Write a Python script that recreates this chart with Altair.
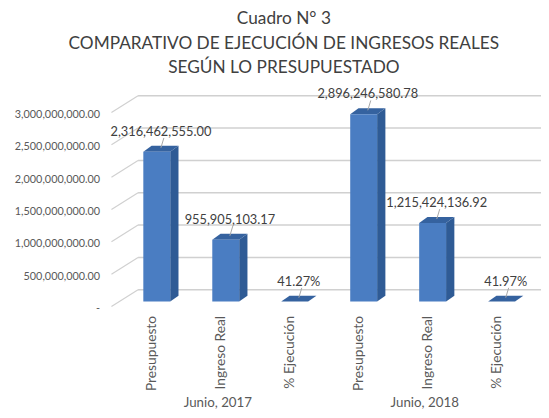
import json
import altair as alt
import pandas as pd

# ---------------- data ----------------
groups = ["Junio, 2017", "Junio, 2018"]
categories = ["Presupuesto", "Ingreso Real", "% Ejecución"]
values_2017 = [2316462555.00, 955905103.17, 0.4127]
values_2018 = [2896246580.78, 1215424136.92, 0.4197]
is_percent = [False, False, True]
y_ticks = [0, 500000000, 1000000000, 1500000000, 2000000000, 2500000000, 3000000000]
title_lines = ["Cuadro N° 3",
               "COMPARATIVO DE EJECUCIÓN DE INGRESOS REALES",
               "SEGÚN LO PRESUPUESTADO"]

# ---------------- style / geometry ----------------
PLOT_W, PLOT_H = 420, 197
Y_MAX = 3000000000
HALF_W = 0.195                    # half bar width (category units)
DEPTH_X = 0.12                    # 3D depth, horizontal (category units)
DEPTH_Y = 6 * Y_MAX / PLOT_H      # 3D depth, vertical (6px in value units)
FRONT = "#4a7dc2"
SIDE = "#2f5b95"
TOP = "#35629f"
FONT = "Lato"

rows = []
for g, vals in zip(groups, [values_2017, values_2018]):
    for c, v, pct in zip(categories, vals, is_percent):
        rows.append(dict(idx=len(rows), group=g, category=c, value=v,
                         label=(f"{v * 100:.2f}%" if pct else f"{v:,.2f}")))
bars = pd.DataFrame(rows)
bars["xl"] = bars["idx"] - HALF_W
bars["xr"] = bars["idx"] + HALF_W
bars["zero"] = 0.0
bars["xlab"] = bars["idx"] + DEPTH_X / 2
bars["vlab"] = bars["value"] + DEPTH_Y / 2

side_rows, top_rows = [], []
for r in rows:
    i, v = r["idx"], r["value"]
    xl, xr = i - HALF_W, i + HALF_W
    side_rows += [dict(bar=i, x=xr, y=v, y2=0.0),
                  dict(bar=i, x=xr + DEPTH_X, y=v + DEPTH_Y, y2=DEPTH_Y)]
    top_rows += [dict(bar=i, x=xl, y=v, y2=v),
                 dict(bar=i, x=xl + DEPTH_X, y=v + DEPTH_Y, y2=v),
                 dict(bar=i, x=xr, y=v + DEPTH_Y, y2=v),
                 dict(bar=i, x=xr + DEPTH_X, y=v + DEPTH_Y, y2=v + DEPTH_Y)]
side = pd.DataFrame(side_rows)
top = pd.DataFrame(top_rows)
ticks = pd.DataFrame({"tick": y_ticks})
grp = bars.groupby("group", as_index=False)["idx"].mean().rename(columns={"idx": "gidx"})

xs = alt.Scale(domain=[-0.5, 5.5], nice=False, zero=False)
ys = alt.Scale(domain=[0, Y_MAX], nice=False)

x_axis = alt.Axis(values=list(range(len(rows))), title=None, grid=False, domain=False,
                  ticks=False, labelAngle=-90, labelPadding=14, labelOffset=-5,
                  labelFont=FONT, labelFontSize=14, labelColor="#595959",
                  labelExpr=f"{json.dumps(categories, ensure_ascii=False)}[datum.value % 3]")
y_axis = alt.Axis(values=y_ticks, title=None, grid=False, domain=False, ticks=False,
                  labelPadding=23, labelOffset=7, labelFont=FONT, labelFontSize=11,
                  labelColor="#595959",
                  labelExpr="datum.value == 0 ? '-\u00a0\u00a0' : format(datum.value, ',.2f')")

grid = alt.Chart(ticks).mark_rule(color="#d0d0d0", strokeWidth=1.5, yOffset=-12).encode(
    x=alt.value(16), x2=alt.value(425),
    y=alt.Y("tick:Q", scale=ys, axis=y_axis))
wall = alt.Chart(ticks).mark_rule(color="#d0d0d0", strokeWidth=1.2, yOffset=5, y2Offset=-12).encode(
    x=alt.value(-11), x2=alt.value(16),
    y=alt.Y("tick:Q", scale=ys, axis=y_axis), y2=alt.Y2("tick:Q"))

side_l = alt.Chart(side).mark_area(color=SIDE).encode(
    x=alt.X("x:Q", scale=xs, axis=x_axis),
    y=alt.Y("y:Q", scale=ys, axis=y_axis, stack=False), y2=alt.Y2("y2:Q"),
    detail="bar:N")
top_l = alt.Chart(top).mark_area(color=TOP).encode(
    x=alt.X("x:Q", scale=xs, axis=x_axis),
    y=alt.Y("y:Q", scale=ys, axis=y_axis, stack=False), y2=alt.Y2("y2:Q"),
    detail="bar:N")
front = alt.Chart(bars).mark_rect(color=FRONT).encode(
    x=alt.X("xl:Q", scale=xs, axis=x_axis), x2=alt.X2("xr:Q"),
    y=alt.Y("value:Q", scale=ys, axis=y_axis), y2=alt.Y2("zero:Q"))
leader = alt.Chart(bars).mark_rule(color="#a6a6a6", strokeWidth=1, yOffset=-1,
                                   x2Offset=3, y2Offset=-11).encode(
    x=alt.X("xlab:Q", scale=xs, axis=x_axis), x2=alt.X2("xlab:Q"),
    y=alt.Y("vlab:Q", scale=ys, axis=y_axis), y2=alt.Y2("vlab:Q"))
labels = alt.Chart(bars).mark_text(dy=-20, font=FONT, fontSize=13, color="#404040").encode(
    x=alt.X("xlab:Q", scale=xs, axis=x_axis),
    y=alt.Y("value:Q", scale=ys, axis=y_axis),
    text="label:N")
glabels = alt.Chart(grp).mark_text(dx=-8, baseline="alphabetic", font=FONT, fontSize=13.5,
                                   color="#595959").encode(
    x=alt.X("gidx:Q", scale=xs, axis=x_axis),
    y=alt.value(304),
    text="group:N")

chart = alt.layer(grid, wall, side_l, top_l, front, leader, labels, glabels).properties(
    width=PLOT_W, height=PLOT_H,
    title=alt.TitleParams(text=title_lines, font=FONT, fontSize=17.5, fontWeight="normal",
                          color="#404040", lineHeight=25, anchor="middle", frame="group",
                          dx=-46, offset=12),
    padding={"left": 116, "top": 98, "right": 5, "bottom": 107},
    autosize=alt.AutoSizeParams(type="none"),
).configure_view(strokeWidth=0)

chart.save("out.html", embed_options={"renderer": "svg", "actions": False})
